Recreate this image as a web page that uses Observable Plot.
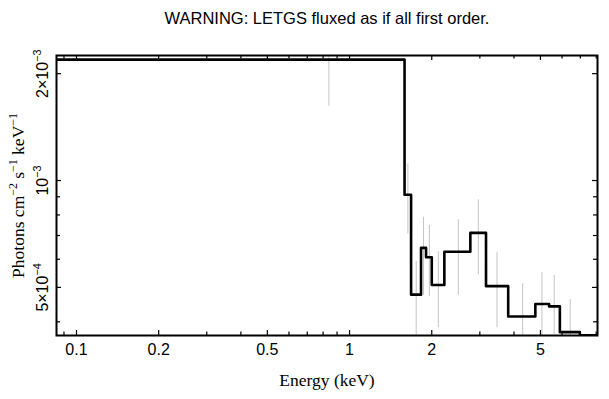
<!DOCTYPE html>
<html><head><meta charset="utf-8">
<script src="https://cdn.jsdelivr.net/npm/d3@7"></script>
<script src="https://cdn.jsdelivr.net/npm/@observablehq/plot@0.6"></script>
<style>body{margin:0;background:#fff}</style>
</head><body><div id="chart"></div>
<script>
// Step histogram bins (keV) and flux values (photons cm^-2 s^-1 keV^-1)
const binLo = [0.08, 1.59, 1.68, 1.827, 1.906, 2.0, 2.224, 2.769, 3.16, 3.81, 4.79, 5.38, 5.89, 6.97];
const binHi = [1.59, 1.68, 1.827, 1.906, 2.0, 2.224, 2.769, 3.16, 3.81, 4.79, 5.38, 5.89, 6.97, 8.3];
const flux  = [2.19e-3, 9.12e-4, 4.77e-4, 6.46e-4, 6.08e-4, 5.08e-4, 6.30e-4, 7.12e-4, 5.04e-4, 4.14e-4, 4.49e-4, 4.42e-4, 3.74e-4, 3.665e-4];
// Error bars
const errE  = [0.84, 1.635, 1.754, 1.866, 1.96, 2.114, 2.502, 2.962, 3.467, 4.305, 5.064, 5.617, 6.427];
const errLo = [1.62e-3, 7.07e-4, 3.62e-4, 4.75e-4, 4.71e-4, 3.85e-4, 4.75e-4, 5.42e-4, 3.85e-4, 3.16e-4, 3.48e-4, 3.44e-4, 2.86e-4];
const errHi = [2.76e-3, 1.114e-3, 5.92e-4, 7.88e-4, 7.47e-4, 6.30e-4, 7.76e-4, 8.82e-4, 6.28e-4, 5.12e-4, 5.50e-4, 5.40e-4, 4.62e-4];
// Ticks
const xMajor = [0.1, 0.2, 0.5, 1, 2, 5];
const xLabels = ["0.1", "0.2", "0.5", "1", "2", "5"];
const xMinor = [0.09, 0.3, 0.4, 0.6, 0.7, 0.8, 0.9, 3, 4, 6, 7, 8];
const yMajor = [5e-4, 1e-3, 2e-3];
const yLabels = ["5×10^{−4}", "10^{−3}", "2×10^{−3}"];
const yMinor = [4e-4, 6e-4, 7e-4, 8e-4, 9e-4];
const titleText = "WARNING: LETGS fluxed as if all first order.";
const xTitle = "Energy (keV)";
const yTitle = "Photons cm^{−2} s^{−1} keV^{−1}";

const W = 609, H = 399, mt = 55, mb = 64, ml = 56, mr = 12;
const fw = W - ml - mr, fh = H - mt - mb;
const stepData = binLo.map((lo, i) => ({e: lo, v: flux[i]}))
  .concat([{e: binHi[binHi.length - 1], v: flux[flux.length - 1]}]);
const errData = errE.map((e, i) => ({e, lo: errLo[i], hi: errHi[i]}));
const serif = "'Liberation Serif', 'Times New Roman', serif";

const chart = Plot.plot({
  width: W, height: H,
  marginTop: mt, marginBottom: mb, marginLeft: ml, marginRight: mr,
  x: {type: "log", domain: [0.0845, 8.09], axis: null},
  y: {type: "log", domain: [3.66e-4, 2.25e-3], axis: null},
  style: {fontFamily: "'Liberation Sans', Arial, sans-serif", fontSize: "16px", color: "#000", background: "#fff"},
  marks: [
    Plot.ruleX(errData, {x: "e", y1: "lo", y2: "hi", stroke: "#c4c4c4", strokeWidth: 1, clip: true}),
    Plot.line(stepData, {x: "e", y: "v", curve: "step-after", stroke: "#000", strokeWidth: 2.6, clip: true}),
    Plot.ruleX(xMajor, {x: d => d, insetTop: fh - 5, stroke: "#000", strokeWidth: 1.2}),
    Plot.ruleX(xMajor, {x: d => d, insetBottom: fh - 5, stroke: "#000", strokeWidth: 1.2}),
    Plot.ruleX(xMinor, {x: d => d, insetTop: fh - 3.5, stroke: "#000", strokeWidth: 1.2}),
    Plot.ruleX(xMinor, {x: d => d, insetBottom: fh - 3.5, stroke: "#000", strokeWidth: 1.2}),
    Plot.ruleY(yMajor, {y: d => d, insetRight: fw - 5, stroke: "#000", strokeWidth: 1.2}),
    Plot.ruleY(yMajor, {y: d => d, insetLeft: fw - 5, stroke: "#000", strokeWidth: 1.2}),
    Plot.ruleY(yMinor, {y: d => d, insetRight: fw - 4, stroke: "#000", strokeWidth: 1.2}),
    Plot.ruleY(yMinor, {y: d => d, insetLeft: fw - 4, stroke: "#000", strokeWidth: 1.2}),
    Plot.frame({stroke: "#000", strokeWidth: 2}),
    Plot.text(xMajor, {x: d => d, text: (d, i) => xLabels[i], frameAnchor: "bottom", dy: 14, lineAnchor: "middle", fontSize: 16, fill: "#000"}),
    Plot.text(yMajor, {y: d => d, text: (d, i) => yLabels[i], frameAnchor: "left", dx: -9, rotate: -90, textAnchor: "middle", lineAnchor: "bottom", fontSize: 16, fill: "#000"}),
    Plot.text([titleText], {text: d => d, frameAnchor: "top", dy: -37, lineAnchor: "middle", fontSize: 16.5, fill: "#000"}),
    Plot.text([xTitle], {text: d => d, frameAnchor: "bottom", dy: 45, lineAnchor: "middle", fontFamily: serif, fontSize: 17.5, fill: "#000"}),
    Plot.text([yTitle], {text: d => d, frameAnchor: "left", dx: -38, rotate: -90, textAnchor: "middle", lineAnchor: "middle", fontFamily: serif, fontSize: 17.5, fill: "#000"})
  ]
});
document.getElementById("chart").appendChild(chart);

// Convert ^{...} markup into superscript tspans
d3.select(chart).selectAll("text").each(function() {
  const el = this;
  const s = el.textContent;
  if (!s.includes("^{")) return;
  const fs = parseFloat(getComputedStyle(el).fontSize) || 16;
  const shift = fs * 0.42;
  el.textContent = "";
  const re = /\^\{([^}]*)\}/g;
  let last = 0, m, raised = false;
  const add = (txt, sup) => {
    if (!txt) return;
    const t = d3.select(el).append("tspan").text(txt);
    if (sup) { t.attr("font-size", (fs * 0.68) + "px").attr("dy", -shift); raised = true; }
    else if (raised) { t.attr("dy", shift); raised = false; }
  };
  while ((m = re.exec(s))) {
    add(s.slice(last, m.index), false);
    add(m[1], true);
    last = re.lastIndex;
  }
  add(s.slice(last), false);
});
</script>
</body></html>
